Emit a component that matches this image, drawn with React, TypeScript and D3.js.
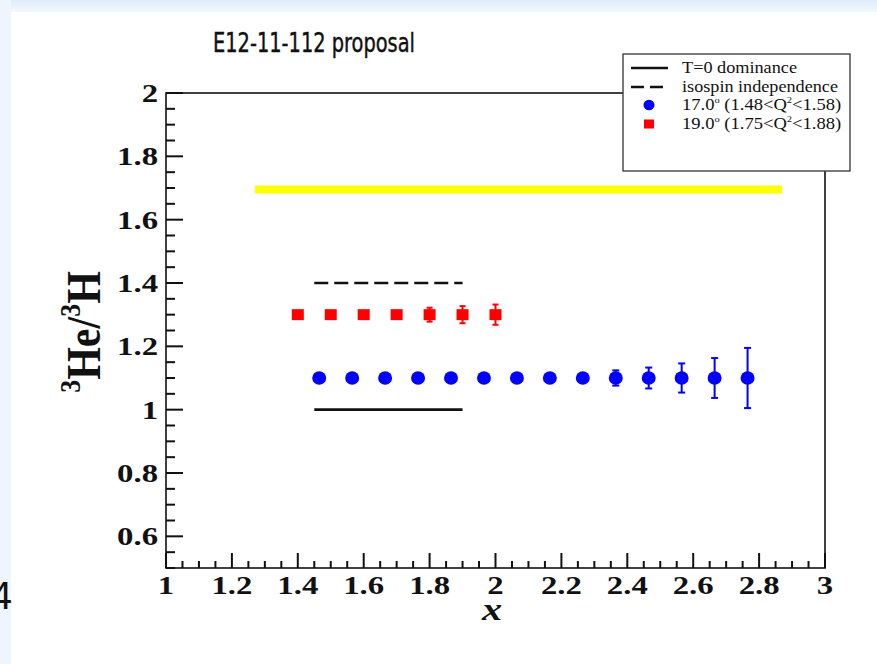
import React from "react";
import * as d3 from "d3";

const redX = [1.4, 1.5, 1.6, 1.7, 1.8, 1.9, 2.0];
const redY = [1.3, 1.3, 1.3, 1.3, 1.3, 1.3, 1.3];
const redErr = [0, 0, 0, 0.008, 0.022, 0.027, 0.032];

const blueX = [1.465, 1.565, 1.665, 1.765, 1.865, 1.965, 2.065, 2.165, 2.265, 2.365, 2.465, 2.565, 2.665, 2.765];
const blueY = [1.1, 1.1, 1.1, 1.1, 1.1, 1.1, 1.1, 1.1, 1.1, 1.1, 1.1, 1.1, 1.1, 1.1];
const blueErr = [0, 0, 0, 0, 0, 0, 0, 0, 0, 0.024, 0.033, 0.046, 0.063, 0.095];

const theoryX = [1.45, 1.9];
const t0Value = 1.0;
const isoValue = 1.4;
const yellowX = [1.27, 2.87];
const yellowValue = 1.695;

const legendLabels = ["T=0 dominance", "isospin independence", "17.0", "19.0"];

const W = 877, H = 664;
const L = 166, R = 825, T = 93, B = 568;
const SX = 1.26;

export default function App() {
  const x = d3.scaleLinear().domain([1, 3]).range([L, R]);
  const y = d3.scaleLinear().domain([0.5, 2]).range([B, T]);
  const xMajor = x.ticks(10);
  const xMinor = x.ticks(40).filter((t) => !xMajor.some((m) => Math.abs(m - t) < 1e-9));
  const yMajor = y.ticks(8);
  const yMinor = y.ticks(30).filter((t) => !yMajor.some((m) => Math.abs(m - t) < 1e-9));
  const fmt = (t: number) => String(+t.toFixed(1));
  const serif = "'Liberation Serif', 'Times New Roman', serif";
  const line = d3.line<[number, number]>().x((d) => x(d[0])).y((d) => y(d[1]));

  const legX = 623, legY = 54, legW = 227, legH = 117;
  const rowY = [68, 87, 105, 124];

  return (
    <svg width={W} height={H} style={{ position: "absolute", left: 0, top: 0, background: "#fff" }}>
      <defs>
        <linearGradient id="topg" x1="0" y1="0" x2="0" y2="1">
          <stop offset="0" stopColor="#dfecf9" />
          <stop offset="1" stopColor="#f3f8fd" />
        </linearGradient>
      </defs>
      <rect x={0} y={0} width={W} height={12} fill="url(#topg)" />
      <rect x={0} y={0} width={11} height={H} fill="#eef5fc" />
      <text x={-9} y={609} fontFamily="'DejaVu Sans Condensed', 'DejaVu Sans', sans-serif" fontSize={38} fill="#111">4</text>

      <text x={213} y={52} fontFamily="'DejaVu Sans Condensed', 'DejaVu Sans', sans-serif" fontSize={27}
        textLength={202} lengthAdjust="spacingAndGlyphs" fill="#111" stroke="#111" strokeWidth={0.4}>E12-11-112 proposal</text>

      {/* yellow band */}
      <path d={line([[yellowX[0], yellowValue], [yellowX[1], yellowValue]])!} stroke="#ffff00" strokeWidth={8} fill="none" />

      {/* frame */}
      <rect x={L} y={T} width={R - L} height={B - T} fill="none" stroke="#111" strokeWidth={1.6} />

      {/* ticks */}
      {xMajor.map((t) => (
        <line key={"xM" + t} x1={x(t)} x2={x(t)} y1={B} y2={B - 15} stroke="#111" strokeWidth={2} />
      ))}
      {xMinor.map((t) => (
        <line key={"xm" + t} x1={x(t)} x2={x(t)} y1={B} y2={B - 7} stroke="#111" strokeWidth={2} />
      ))}
      {yMajor.map((t) => (
        <line key={"yM" + t} x1={L} x2={L + 17} y1={y(t)} y2={y(t)} stroke="#111" strokeWidth={2} />
      ))}
      {yMinor.map((t) => (
        <line key={"ym" + t} x1={L} x2={L + 9} y1={y(t)} y2={y(t)} stroke="#111" strokeWidth={2} />
      ))}

      {xMajor.map((t) => (
        <text key={"xl" + t} transform={`translate(${x(t)},${594}) scale(${SX},1)`} textAnchor="middle"
          fontFamily={serif} fontWeight="bold" fontSize={26} fill="#111">{fmt(t)}</text>
      ))}
      {yMajor.map((t) => (
        <text key={"yl" + t} transform={`translate(${158},${y(t) + 9}) scale(${SX},1)`} textAnchor="end"
          fontFamily={serif} fontWeight="bold" fontSize={26} fill="#111">{fmt(t)}</text>
      ))}

      {/* axis titles */}
      <text transform={`translate(${492},${620}) scale(${SX},1)`} textAnchor="middle" fontFamily={serif}
        fontWeight="bold" fontStyle="italic" fontSize={32} fill="#111">x</text>
      <text transform={`translate(${100},${332}) scale(${1.15},1) rotate(-90)`} textAnchor="middle" fontFamily={serif}
        fontWeight="bold" fontSize={42} fill="#111">
        <tspan fontSize={26} dy={-17}>3</tspan>
        <tspan dy={17}>He/</tspan>
        <tspan fontSize={26} dy={-17}>3</tspan>
        <tspan dy={17}>H</tspan>
      </text>

      {/* theory lines */}
      <path d={line([[theoryX[0], isoValue], [theoryX[1], isoValue]])!} stroke="#111" strokeWidth={2.6}
        strokeDasharray="14 6" fill="none" />
      <path d={line([[theoryX[0], t0Value], [theoryX[1], t0Value]])!} stroke="#111" strokeWidth={2.6} fill="none" />

      {/* red squares */}
      {redX.map((v, i) => (
        <g key={"r" + i}>
          {redErr[i] > 0 && (
            <g stroke="#ff0000" strokeWidth={2}>
              <line x1={x(v)} x2={x(v)} y1={y(redY[i] - redErr[i])} y2={y(redY[i] + redErr[i])} />
              <line x1={x(v) - 3} x2={x(v) + 3} y1={y(redY[i] - redErr[i])} y2={y(redY[i] - redErr[i])} />
              <line x1={x(v) - 3} x2={x(v) + 3} y1={y(redY[i] + redErr[i])} y2={y(redY[i] + redErr[i])} />
            </g>
          )}
          <rect x={x(v) - 6} y={y(redY[i]) - 5.5} width={12} height={11} fill="#ff0000" />
        </g>
      ))}

      {/* blue circles */}
      {blueX.map((v, i) => (
        <g key={"b" + i}>
          {blueErr[i] > 0 && (
            <g stroke="#0000ff" strokeWidth={2}>
              <line x1={x(v)} x2={x(v)} y1={y(blueY[i] - blueErr[i])} y2={y(blueY[i] + blueErr[i])} />
              <line x1={x(v) - 3.5} x2={x(v) + 3.5} y1={y(blueY[i] - blueErr[i])} y2={y(blueY[i] - blueErr[i])} />
              <line x1={x(v) - 3.5} x2={x(v) + 3.5} y1={y(blueY[i] + blueErr[i])} y2={y(blueY[i] + blueErr[i])} />
            </g>
          )}
          <ellipse cx={x(v)} cy={y(blueY[i])} rx={7} ry={6.7} fill="#0000ff" />
        </g>
      ))}

      {/* legend */}
      <rect x={legX} y={legY} width={legW} height={legH} fill="#fff" stroke="#333" strokeWidth={1.3} />
      <line x1={631} x2={668} y1={rowY[0]} y2={rowY[0]} stroke="#111" strokeWidth={2.4} />
      <line x1={631} x2={668} y1={rowY[1]} y2={rowY[1]} stroke="#111" strokeWidth={2.4} strokeDasharray="13 6" />
      <ellipse cx={649} cy={rowY[2]} rx={5.5} ry={5.2} fill="#0000ff" />
      <rect x={644} y={rowY[3] - 4.5} width={10} height={9} fill="#ff0000" />
      <g fontFamily={serif} fontSize={16} fill="#111">
        <text x={682} y={rowY[0] + 5} textLength={115} lengthAdjust="spacingAndGlyphs">{legendLabels[0]}</text>
        <text x={682} y={rowY[1] + 5} textLength={156} lengthAdjust="spacingAndGlyphs">{legendLabels[1]}</text>
        <text transform={`translate(682,${rowY[2] + 5}) scale(1.16,1)`}>
          {legendLabels[2]}<tspan fontSize={9} dy={-7}>o</tspan><tspan dy={7}> (1.48&lt;Q</tspan><tspan fontSize={9} dy={-7}>2</tspan><tspan dy={7}>&lt;1.58)</tspan>
        </text>
        <text transform={`translate(682,${rowY[3] + 5}) scale(1.16,1)`}>
          {legendLabels[3]}<tspan fontSize={9} dy={-7}>o</tspan><tspan dy={7}> (1.75&lt;Q</tspan><tspan fontSize={9} dy={-7}>2</tspan><tspan dy={7}>&lt;1.88)</tspan>
        </text>
      </g>
    </svg>
  );
}
